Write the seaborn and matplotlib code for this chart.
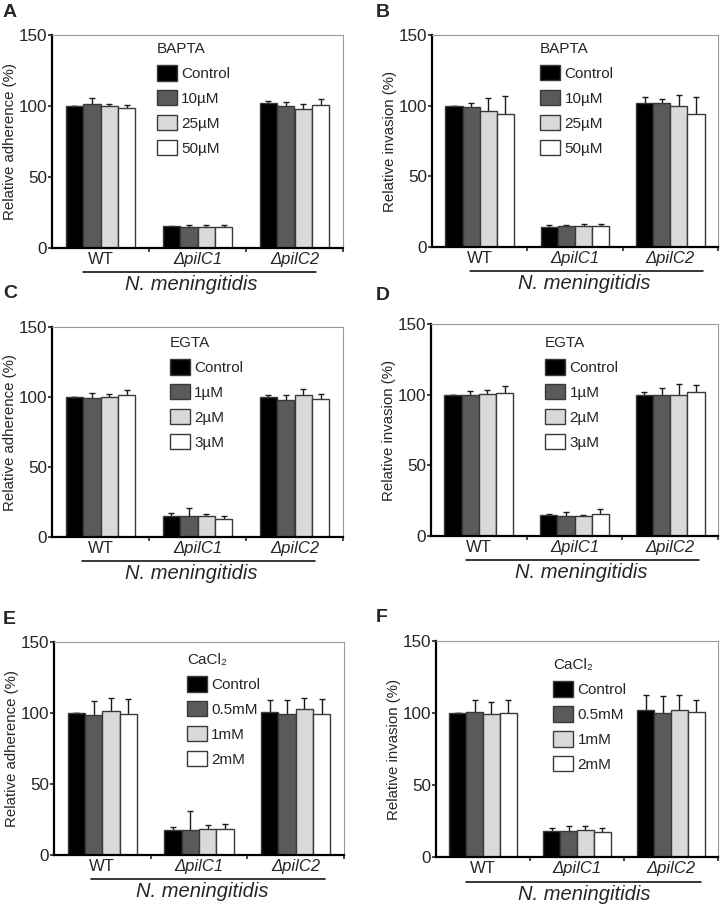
import numpy as np
import pandas as pd
import matplotlib
matplotlib.use("Agg")
import matplotlib.pyplot as plt
from matplotlib.patches import Patch
from matplotlib.transforms import blended_transform_factory
import seaborn as sns

# ---------------- data ----------------
strains = ["WT", "ΔpilC1", "ΔpilC2"]
bapta_levels = ["Control", "10µM", "25µM", "50µM"]
egta_levels = ["Control", "1µM", "2µM", "3µM"]
cacl2_levels = ["Control", "0.5mM", "1mM", "2mM"]

# rows = strains (WT, ΔpilC1, ΔpilC2), columns = treatment levels
adh_bapta = [[100, 101.2, 100, 98.3], [15.3, 15, 15, 15], [101.8, 99.8, 97.6, 100.4]]
adh_bapta_err = [[0, 4.6, 1.6, 2.7], [0.5, 1.4, 1.4, 1.4], [1.7, 2.7, 3.7, 4.5]]

inv_bapta = [[100, 99.2, 96.5, 94.2], [14.5, 15, 14.8, 14.8], [102.2, 101.7, 99.5, 94.4]]
inv_bapta_err = [[0, 3, 8.7, 12.4], [1, 0.8, 1.8, 1.5], [4, 3, 8, 12]]

adh_egta = [[100, 99.2, 100, 101.6], [15.2, 15.2, 14.7, 12.8], [100.2, 98, 101.6, 98.5]]
adh_egta_err = [[0, 3.8, 2.4, 3.1], [2.1, 5.2, 1.7, 2.4], [1.2, 3.1, 3.8, 4]]

inv_egta = [[100, 100, 100.7, 101.4], [14.9, 14.4, 14.4, 15.3], [100, 100, 100, 102.1]]
inv_egta_err = [[0, 2.8, 2.6, 4.7], [0.4, 2.8, 0.7, 3.6], [1.9, 4.5, 7.3, 5]]

adh_cacl2 = [[100, 98.9, 101.2, 99.3], [17.6, 17.6, 18, 18.5], [100.5, 99.1, 103.1, 99.5]]
adh_cacl2_err = [[0, 9.6, 9.4, 10.6], [2.3, 13.3, 2.9, 3.1], [8.7, 10.1, 7.8, 10.4]]

inv_cacl2 = [[100, 100.5, 99.3, 100], [18.3, 17.9, 18.8, 17.4], [102.1, 100.2, 102.3, 100.9]]
inv_cacl2_err = [[0, 8.3, 8.4, 9.1], [1.9, 3.7, 2.8, 2.8], [10.7, 11.6, 10.5, 8.4]]

# ---------------- style ----------------
sns.set_style("ticks")
plt.rcParams["font.family"] = ["Liberation Sans", "DejaVu Sans"]

bar_colors = ["#000000", "#5a5a5a", "#d9d9d9", "#ffffff"]
edge_col = "#3a3a3a"

W, H = 723, 906
fig = plt.figure(figsize=(W / 100, H / 100), dpi=100)

panels = [
    dict(letter="A", lpos=(3, 4), rect=(52, 35, 343, 248), means=adh_bapta, errs=adh_bapta_err,
         levels=bapta_levels, title="BAPTA", ylabel="Relative adherence (%)",
         leg=(0.36, 0.967), line=(-0.18, 2.22), tx=0.94),
    dict(letter="B", lpos=(376, 4), rect=(432, 35, 718, 247), means=inv_bapta, errs=inv_bapta_err,
         levels=bapta_levels, title="BAPTA", ylabel="Relative invasion (%)",
         leg=(0.378, 0.967), line=(-0.1, 2.34), tx=1.1),
    dict(letter="C", lpos=(3, 285), rect=(52, 327, 343, 537), means=adh_egta, errs=adh_egta_err,
         levels=egta_levels, title="EGTA", ylabel="Relative adherence (%)",
         leg=(0.405, 0.957), line=(-0.19, 2.21), tx=0.94),
    dict(letter="D", lpos=(376, 287), rect=(431, 324, 718, 536), means=inv_egta, errs=inv_egta_err,
         levels=egta_levels, title="EGTA", ylabel="Relative invasion (%)",
         leg=(0.397, 0.943), line=(-0.13, 2.3), tx=1.07),
    dict(letter="E", lpos=(3, 611), rect=(54, 642, 344, 855), means=adh_cacl2, errs=adh_cacl2_err,
         levels=cacl2_levels, title="CaCl₂", ylabel="Relative adherence (%)",
         leg=(0.458, 0.948), line=(-0.12, 2.3), tx=1.03),
    dict(letter="F", lpos=(376, 609), rect=(436, 641, 718, 857), means=inv_cacl2, errs=inv_cacl2_err,
         levels=cacl2_levels, title="CaCl₂", ylabel="Relative invasion (%)",
         leg=(0.415, 0.92), line=(-0.18, 2.32), tx=1.08),
]

for p in panels:
    l, t, r, b = p["rect"]
    ax = fig.add_axes([l / W, 1 - b / H, (r - l) / W, (b - t) / H])
    rows = []
    for s, mrow, erow in zip(strains, p["means"], p["errs"]):
        for lv, m, e in zip(p["levels"], mrow, erow):
            rows.append((s, lv, m, e))
    df = pd.DataFrame(rows, columns=["strain", "treatment", "value", "err"])

    sns.barplot(data=df, x="strain", y="value", hue="treatment", order=strains,
                hue_order=p["levels"], palette=bar_colors, width=0.72, gap=0,
                edgecolor=edge_col, linewidth=1.0, errorbar=None, saturation=1,
                legend=False, ax=ax)

    bars = sorted([pt for pt in ax.patches], key=lambda pt: pt.get_x())
    xs = [bb.get_x() + bb.get_width() / 2 for bb in bars]
    ys = [bb.get_height() for bb in bars]
    ax.errorbar(xs, ys, yerr=df["err"].values, fmt="none", ecolor="#1a1a1a",
                elinewidth=1.0, capsize=2.3, capthick=1.0, zorder=0.8)

    ax.set_xlim(-0.5, 2.5)
    ax.set_ylim(0, 150)
    ax.set_yticks([0, 50, 100, 150])
    ax.set_xlabel("")
    ax.set_ylabel(p["ylabel"], fontsize=10.8, labelpad=1)

    for side in ["left", "bottom"]:
        ax.spines[side].set_color("black")
        ax.spines[side].set_linewidth(1.6)
    for side in ["top", "right"]:
        ax.spines[side].set_visible(True)
        ax.spines[side].set_color("#9a9a9a")
        ax.spines[side].set_linewidth(0.8)

    ax.tick_params(axis="y", direction="out", length=3, width=1.2, pad=0.5, labelsize=12.3)
    ax.tick_params(axis="x", which="major", length=0, pad=3, labelsize=12)
    ax.set_xticks([0.5, 1.5, 2.5], minor=True)
    ax.tick_params(axis="x", which="minor", direction="out", length=3, width=1.2)
    for lab in ax.get_xticklabels():
        if lab.get_text().startswith("Δ"):
            lab.set_fontstyle("italic")

    handles = [Patch(facecolor=c, edgecolor=edge_col, linewidth=1.0) for c in bar_colors]
    ax.legend(handles, p["levels"], title=p["title"], loc="upper left",
              bbox_to_anchor=p["leg"], frameon=False, fontsize=11, title_fontsize=11,
              handlelength=1.3, handleheight=1.18, labelspacing=0.59,
              handletextpad=0.3, borderpad=0, borderaxespad=0, alignment="left")

    trans = blended_transform_factory(ax.transData, ax.transAxes)
    x0, x1 = p["line"]
    ax.plot([x0, x1], [-0.115, -0.115], transform=trans, clip_on=False, color="black", lw=1.1)
    ax.text(p["tx"], -0.172, "N. meningitidis", transform=trans, ha="center",
            va="center", fontstyle="italic", fontsize=14.5)

    lx, ly = p["lpos"]
    fig.text(lx / W, 1 - ly / H, p["letter"], fontsize=14, fontweight="bold",
             ha="left", va="top")

fig.savefig("out.png", dpi=100)
